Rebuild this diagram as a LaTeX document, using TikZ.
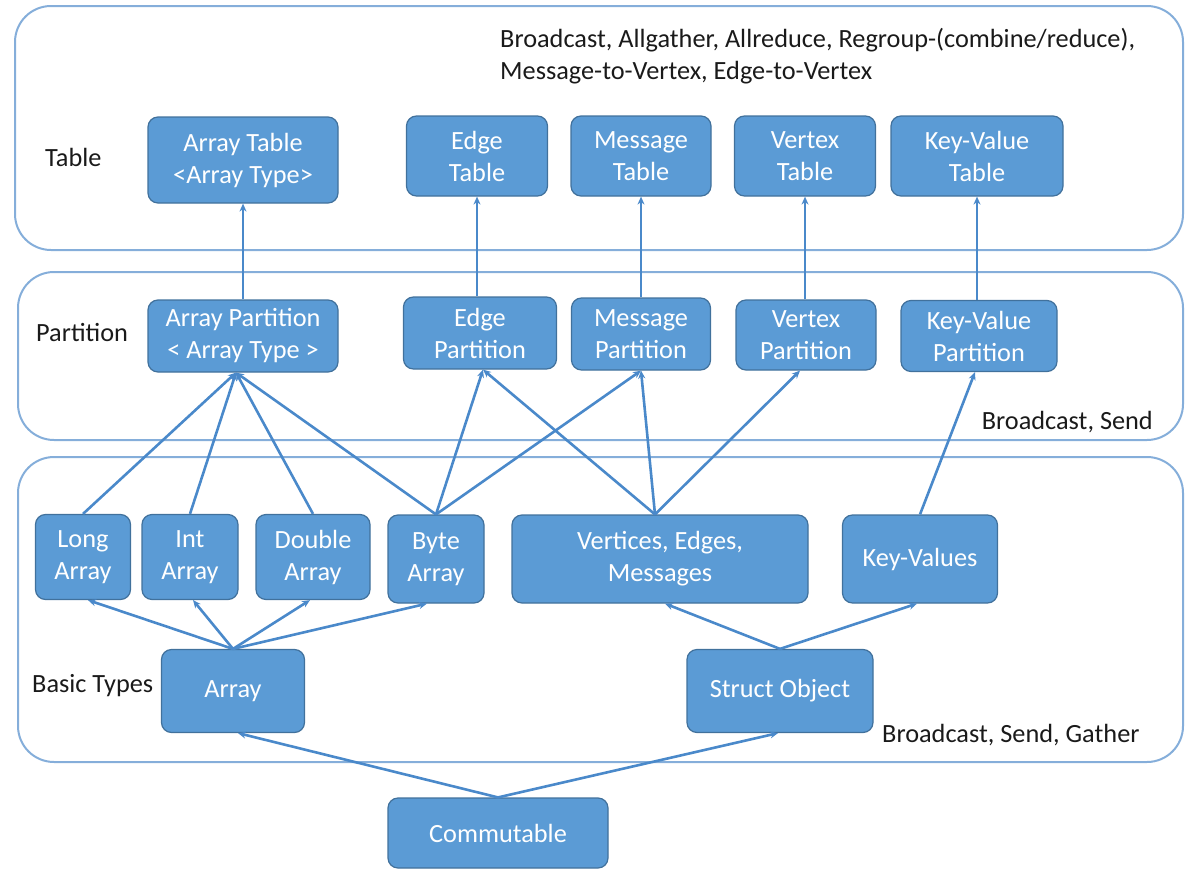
\documentclass[tikz,border=0pt]{standalone}
\usepackage{fontspec}
\setmainfont{Carlito}
\usetikzlibrary{arrows.meta,calc}
\definecolor{boxfill}{HTML}{5B9BD5}
\definecolor{boxline}{HTML}{41719C}
\definecolor{frameline}{HTML}{85AEDA}
\definecolor{connc}{HTML}{4A89CA}
\definecolor{labtext}{HTML}{1A1A1A}
\begin{document}
\begin{tikzpicture}[x=1pt,y=-1pt,
  box/.style={draw=boxline, line width=1.2pt, fill=boxfill, rounded corners=10pt, text=white, align=center, font=\fontsize{26.3}{32}\selectfont, inner sep=0pt},
  frame/.style={draw=frameline, line width=2pt, rounded corners=36pt},
  conn/.style={draw=connc, line width=2.6pt, -{Stealth[length=8pt,width=7pt]}},
  lab/.style={text=labtext, font=\fontsize{26.3}{32}\selectfont, inner sep=0pt, align=left}]
\useasboundingbox (0,0) rectangle (1186,870);
% frames
\draw[frame] (15,6) rectangle (1183,250);
\draw[frame] (18,272) rectangle (1183,440);
\draw[frame] (18,457) rectangle (1183,762);
% labels
\node[lab, anchor=west] (ltable) at (45,157) {Table};
\node[lab, anchor=west] (lpart) at (36,333) {Partition};
\node[lab, anchor=west] (lbasic) at (32,686) {Basic Types};
\node[lab, anchor=west] (ltop) at (500,56) {Broadcast, Allgather, Allreduce, Regroup-(combine/reduce),\\Message-to-Vertex, Edge-to-Vertex};
\node[lab, anchor=east] (lbs) at (1153,422) {Broadcast, Send};
\node[lab, anchor=west] (lbsg) at (882,735) {Broadcast, Send, Gather};
% table row
\node[box, minimum width=190pt, minimum height=86pt] (at) at (243,160) {Array Table\\<Array Type>};
\node[box, minimum width=141pt, minimum height=80pt] (et) at (477,156) {Edge\\Table};
\node[box, minimum width=140pt, minimum height=80pt] (mt) at (641,156) {Message\\Table};
\node[box, minimum width=141pt, minimum height=80pt] (vt) at (805,156) {Vertex\\Table};
\node[box, minimum width=172pt, minimum height=80pt] (kt) at (977,156) {Key-Value\\Table};
% partition row
\node[box, minimum width=190pt, minimum height=72pt] (ap) at (243,336) {Array Partition\\< Array Type >};
\node[box, minimum width=153pt, minimum height=72pt] (ep) at (480,333) {Edge\\Partition};
\node[box, minimum width=139pt, minimum height=72pt] (mp) at (641,334) {Message\\Partition};
\node[box, minimum width=140pt, minimum height=70pt] (vp) at (806,335) {Vertex\\Partition};
\node[box, minimum width=156pt, minimum height=71pt] (kp) at (979,336) {Key-Value\\Partition};
% basic row
\node[box, minimum width=95pt, minimum height=85pt] (la) at (83,557) {Long\\Array};
\node[box, minimum width=96pt, minimum height=85pt] (ia) at (190,557) {Int\\Array};
\node[box, minimum width=114pt, minimum height=85pt] (da) at (313,557) {Double\\Array};
\node[box, minimum width=96pt, minimum height=88pt] (ba) at (436,559) {Byte\\Array};
\node[box, minimum width=296pt, minimum height=88pt] (vem) at (660,559) {Vertices, Edges,\\Messages};
\node[box, minimum width=155pt, minimum height=88pt] (kv) at (920,559) {Key-Values};
\node[box, minimum width=143pt, minimum height=83pt] (arr) at (233,691) {Array};
\node[box, minimum width=186pt, minimum height=83pt] (so) at (780,691) {Struct Object};
\node[box, minimum width=220pt, minimum height=70pt] (com) at (498,833) {Commutable};
% partition -> table
\draw[conn] (ap.north) -- (at.south);
\draw[conn] (ep.north -| et.south) -- (et.south);
\draw[conn] (mp.north) -- (mt.south);
\draw[conn] (vp.north -| vt.south) -- (vt.south);
\draw[conn] (kp.north -| kt.south) -- (kt.south);
% basic -> partition
\draw[conn] (la.north) -- ([xshift=-7pt]ap.south);
\draw[conn] (ia.north) -- ([xshift=-7pt]ap.south);
\draw[conn] (da.north) -- ([xshift=-7pt]ap.south);
\draw[conn] (ba.north) -- ([xshift=-7pt]ap.south);
\draw[conn] (ba.north) -- ([xshift=3pt]ep.south);
\draw[conn] (ba.north) -- (mp.south);
\draw[conn] ([xshift=-5pt]vem.north) -- ([xshift=3pt]ep.south);
\draw[conn] ([xshift=-5pt]vem.north) -- (mp.south);
\draw[conn] ([xshift=-5pt]vem.north) -- ([xshift=-6pt]vp.south);
\draw[conn] (kv.north) -- ([xshift=-4pt]kp.south);
% array -> types
\draw[conn] (arr.north) -- ([xshift=5pt]la.south);
\draw[conn] (arr.north) -- ([xshift=3pt]ia.south);
\draw[conn] (arr.north) -- ([xshift=-3pt]da.south);
\draw[conn] (arr.north) -- ([xshift=-9pt]ba.south);
\draw[conn] (so.north) -- ([xshift=5pt]vem.south);
\draw[conn] (so.north) -- ([xshift=-3pt]kv.south);
% commutable
\draw[conn] (com.north) -- ([xshift=5pt]arr.south);
\draw[conn] (com.north) -- ([xshift=-2pt]so.south);
\end{tikzpicture}
\end{document}
